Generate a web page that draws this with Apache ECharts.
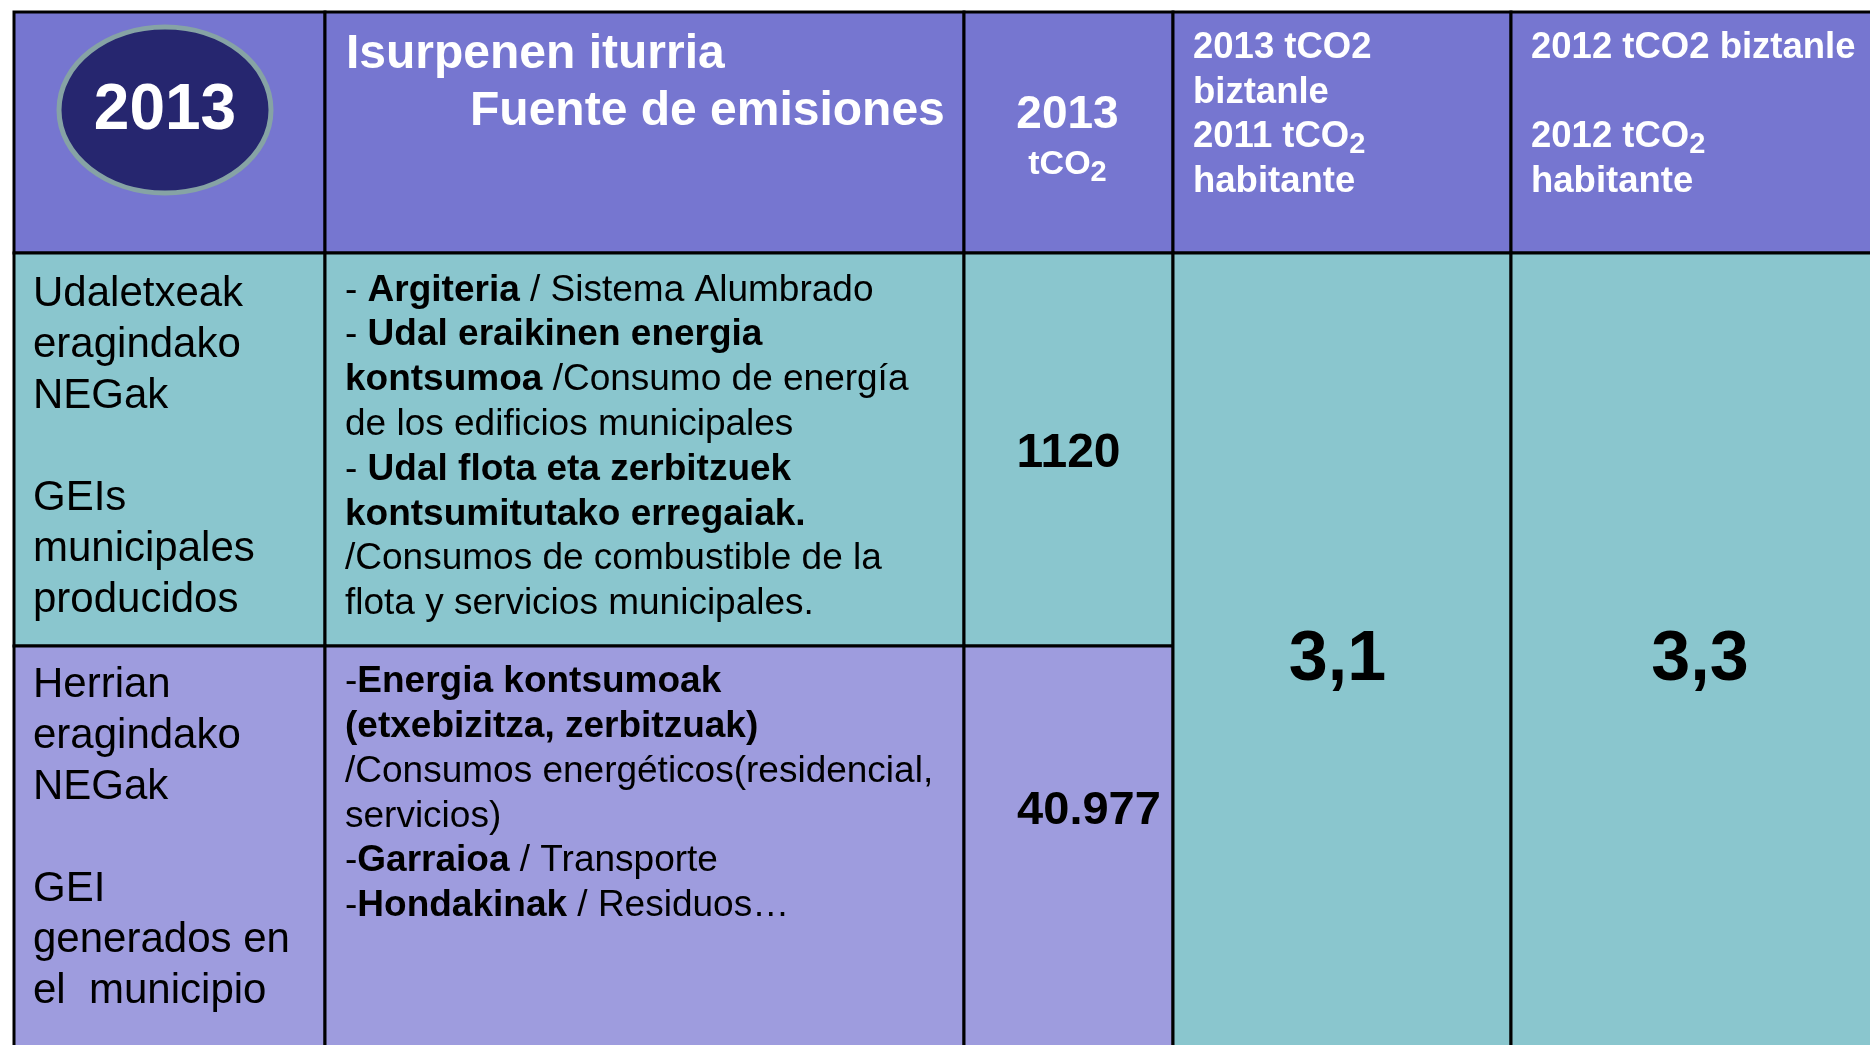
<!DOCTYPE html>
<html>
<head>
<meta charset="utf-8">
<script src="https://cdn.jsdelivr.net/npm/echarts@6/dist/echarts.min.js"></script>
<style>
html,body{margin:0;padding:0;background:#ffffff;}
#chart{width:1870px;height:1045px;}
</style>
</head>
<body>
<div id="chart"></div>
<script>
// ---------------- DATA ----------------
const yearLabel = '2013';
const headerSource = ['Isurpenen iturria', 'Fuente de emisiones'];
const headerTotal = ['2013', ['tCO', '2']];
// each line: [text, subscript]
const headerPerCapitaCurrent = [['2013 tCO2', ''], ['biztanle', ''], ['2011 tCO', '2'], ['habitante', '']];
const headerPerCapitaPrevious = [['2012 tCO2 biztanle', ''], ['', ''], ['2012 tCO', '2'], ['habitante', '']];
const sectorLabels = [
  ['Udaletxeak', 'eragindako', 'NEGak', '', 'GEIs', 'municipales', 'producidos'],
  ['Herrian', 'eragindako', 'NEGak', '', 'GEI', 'generados en', 'el  municipio']
];
// ** marks bold fragments
const sourceLines = [
  [
    '- **Argiteria** / Sistema Alumbrado',
    '- **Udal eraikinen energia**',
    '**kontsumoa** /Consumo de energía',
    'de los edificios municipales',
    '- **Udal flota eta zerbitzuek**',
    '**kontsumitutako erregaiak.**',
    '/Consumos de combustible de la',
    'flota y servicios municipales.'
  ],
  [
    '-**Energia kontsumoak**',
    '**(etxebizitza, zerbitzuak)**',
    '/Consumos energéticos(residencial,',
    'servicios)',
    '-**Garraioa** / Transporte',
    '-**Hondakinak** / Residuos…'
  ]
];
const emissions2013 = [1120, 40977];      // tCO2
const perCapita2013 = [3.1];              // tCO2 / habitante
const perCapita2012 = [3.3];              // tCO2 / habitante

// ---------------- LAYOUT / STYLE ----------------
const colEdges = [14, 325, 964, 1173, 1511, 1885];
const rowEdges = [12, 253, 646, 1057];
const FONT = '"Liberation Sans", Arial, Helvetica, sans-serif';
const C_HEAD = '#7676D0', C_TEAL = '#8AC6CE', C_LAV = '#9E9CDE';

function fmtInt(n) {
  const s = String(Math.round(n));
  if (s.length < 5) return s;
  return s.replace(/\B(?=(\d{3})+(?!\d))/g, '.');
}
function fmtDec(n) { return n.toFixed(1).replace('.', ','); }
function esc(s) { return s.replace(/[{}|]/g, ''); }
function boldMarkup(line) {
  if (!line) return '{r| }';
  return line.split('**').map((p, i) => p ? '{' + (i % 2 ? 'b' : 'r') + '|' + esc(p) + '}' : '').join('');
}
function subLines(lines) {
  return lines.map(l => (l[0] ? '{h|' + l[0] + '}' : '{h| }') + (l[1] ? '{s|' + l[1] + '}' : '')).join('\n');
}
const headRich = (size, lh, sub) => ({
  h: { fontSize: size, fontWeight: 'bold', fontFamily: FONT, fill: '#fff', lineHeight: lh },
  s: { fontSize: sub, fontWeight: 'bold', fontFamily: FONT, fill: '#fff', lineHeight: sub, verticalAlign: 'bottom' }
});
const bodyRich = (size, lh) => ({
  r: { fontSize: size, fontFamily: FONT, fill: '#000', lineHeight: lh },
  b: { fontSize: size, fontWeight: 'bold', fontFamily: FONT, fill: '#000', lineHeight: lh }
});

// single-line bold text; dy is the visual (cap) centre, corrected for the font's middle baseline
function plain(text, dx, dy, size, color, align) {
  return { dx, dy: dy + size * 0.075, style: { text, fontSize: size, fontWeight: 'bold', fontFamily: FONT, fill: color, align: align || 'center', verticalAlign: 'middle' } };
}

const cells = [
  { c: [0, 0, 1, 1], fill: C_HEAD, ellipse: { cx: 151, cy: 98, rx: 106, ry: 83 },
    texts: [plain(yearLabel, 151, 95, 64, '#fff')] },
  { c: [1, 0, 2, 1], fill: C_HEAD,
    texts: [plain(headerSource[0], 21, 39, 48, '#fff', 'left'), plain(headerSource[1], 145, 96, 48, '#fff', 'left')] },
  { c: [2, 0, 3, 1], fill: C_HEAD,
    texts: [plain(headerTotal[0], 103.5, 99.5, 46, '#fff'),
      { dx: 103.5, dy: 153, style: { text: subLines([headerTotal[1]]), rich: headRich(34, 44, 29), align: 'center', verticalAlign: 'middle' } }] },
  { c: [3, 0, 4, 1], fill: C_HEAD,
    texts: [{ dx: 20, dy: 14, style: { text: subLines(headerPerCapitaCurrent), rich: headRich(36.5, 44.5, 29), align: 'left', verticalAlign: 'top' } }] },
  { c: [4, 0, 5, 1], fill: C_HEAD,
    texts: [{ dx: 20, dy: 14, style: { text: subLines(headerPerCapitaPrevious), rich: headRich(36.5, 44.5, 29), align: 'left', verticalAlign: 'top' } }] },
  // row 1
  { c: [0, 1, 1, 2], fill: C_TEAL,
    texts: [{ dx: 19, dy: 16, style: { text: sectorLabels[0].map(boldMarkup).join('\n'), rich: bodyRich(42, 51), align: 'left', verticalAlign: 'top' } }] },
  { c: [1, 1, 2, 2], fill: C_TEAL,
    texts: [{ dx: 20, dy: 15, style: { text: sourceLines[0].map(boldMarkup).join('\n'), rich: bodyRich(37, 44.8), align: 'left', verticalAlign: 'top' } }] },
  { c: [2, 1, 3, 2], fill: C_TEAL, texts: [plain(fmtInt(emissions2013[0]), 104.5, 197.5, 48, '#000')] },
  // row 2
  { c: [0, 2, 1, 3], fill: C_LAV,
    texts: [{ dx: 19, dy: 14, style: { text: sectorLabels[1].map(boldMarkup).join('\n'), rich: bodyRich(42, 51), align: 'left', verticalAlign: 'top' } }] },
  { c: [1, 2, 2, 3], fill: C_LAV,
    texts: [{ dx: 20, dy: 13.5, style: { text: sourceLines[1].map(boldMarkup).join('\n'), rich: bodyRich(37, 44.8), align: 'left', verticalAlign: 'top' } }] },
  { c: [2, 2, 3, 3], fill: C_LAV, texts: [plain(fmtInt(emissions2013[1]), 125, 161.5, 47, '#000')] },
  // merged per-capita cells
  { c: [3, 1, 4, 3], fill: C_TEAL, texts: [plain(fmtDec(perCapita2013[0]), 164.5, 402, 70, '#000')] },
  { c: [4, 1, 5, 3], fill: C_TEAL, texts: [plain(fmtDec(perCapita2012[0]), 189, 402, 70, '#000')] }
];

const chart = echarts.init(document.getElementById('chart'), null, { renderer: 'canvas' });
chart.setOption({
  backgroundColor: '#ffffff',
  animation: false,
  grid: { left: 0, right: 0, top: 0, bottom: 0 },
  xAxis: { type: 'value', min: 0, max: 1870, show: false },
  yAxis: { type: 'value', min: 0, max: 1045, inverse: true, show: false },
  series: [{
    type: 'custom',
    clip: false,
    silent: true,
    data: cells.map((cell, i) => [colEdges[cell.c[0]], rowEdges[cell.c[1]], colEdges[cell.c[2]], rowEdges[cell.c[3]], i]),
    renderItem: function (params, api) {
      const cell = cells[api.value(4)];
      const p0 = api.coord([api.value(0), api.value(1)]);
      const p1 = api.coord([api.value(2), api.value(3)]);
      const children = [{
        type: 'rect',
        shape: { x: p0[0], y: p0[1], width: p1[0] - p0[0], height: p1[1] - p0[1] },
        style: { fill: cell.fill, stroke: '#000', lineWidth: 3 }
      }];
      if (cell.ellipse) {
        const e = cell.ellipse;
        children.push({
          type: 'ellipse',
          shape: { cx: p0[0] + e.cx, cy: p0[1] + e.cy, rx: e.rx, ry: e.ry },
          style: { fill: '#26266F', stroke: '#86A3A5', lineWidth: 5 }
        });
      }
      cell.texts.forEach(t => {
        children.push({ type: 'text', x: p0[0] + t.dx, y: p0[1] + t.dy, style: Object.assign({}, t.style) });
      });
      return { type: 'group', children };
    }
  }]
});
</script>
</body>
</html>
